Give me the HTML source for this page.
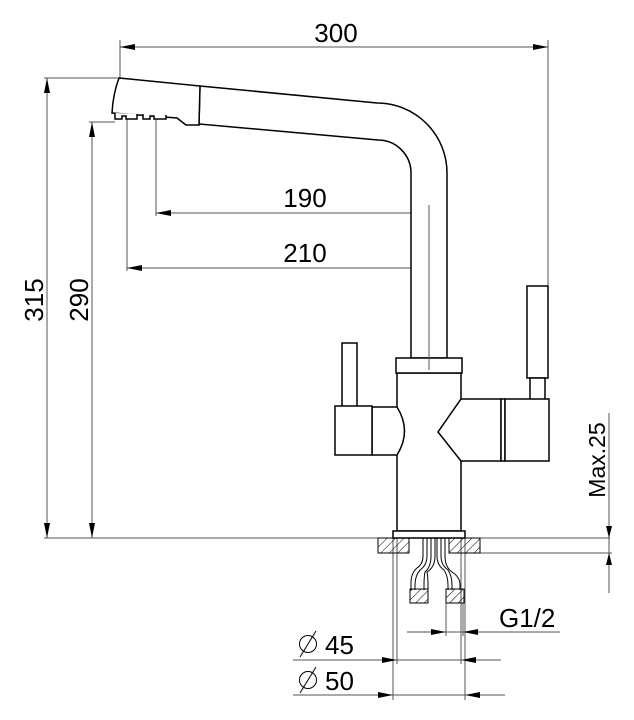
<!DOCTYPE html>
<html><head><meta charset="utf-8"><style>html,body{margin:0;padding:0;background:#fff}svg{display:block}</style></head>
<body>
<svg width="634" height="720" viewBox="0 0 634 720" xmlns="http://www.w3.org/2000/svg">
<defs>
<pattern id="h" width="6" height="6" patternUnits="userSpaceOnUse" patternTransform="rotate(45)"><line x1="0" y1="0" x2="0" y2="6" stroke="#000" stroke-width="1"/></pattern>
</defs>
<g fill="none" stroke="#555" stroke-width="1">
<line x1="120" y1="47" x2="548" y2="47"/>
<line x1="120" y1="40" x2="120" y2="78"/>
<line x1="548" y1="40" x2="548" y2="286"/>
<line x1="47" y1="78" x2="47" y2="538"/>
<line x1="44" y1="78" x2="119" y2="78"/>
<line x1="92" y1="122" x2="92" y2="538"/>
<line x1="89" y1="122" x2="115" y2="122"/>
<line x1="44" y1="538" x2="610" y2="538"/>
<line x1="156" y1="213" x2="428" y2="213"/>
<line x1="156" y1="119" x2="156" y2="216"/>
<line x1="127" y1="268" x2="428" y2="268"/>
<line x1="127" y1="119" x2="127" y2="271"/>
<line x1="609" y1="413" x2="609" y2="593"/>
<line x1="480" y1="553" x2="612" y2="553"/>
<line x1="407" y1="632" x2="560" y2="632"/>
<line x1="446" y1="603" x2="446" y2="636"/>
<line x1="463" y1="603" x2="463" y2="636"/>
<line x1="293" y1="660" x2="501" y2="660"/>
<line x1="293" y1="695" x2="505" y2="695"/>
<line x1="393" y1="538" x2="393" y2="700"/>
<line x1="397" y1="538" x2="397" y2="664"/>
<line x1="461" y1="538" x2="461" y2="664"/>
<line x1="465" y1="538" x2="465" y2="700"/>
</g>
<g fill="#000">
<polygon points="120,47 135,44 135,50"/><polygon points="548,47 533,44 533,50"/>
<polygon points="47,78 44,93 50,93"/><polygon points="47,538 44,523 50,523"/>
<polygon points="92,122 89,137 95,137"/><polygon points="92,538 89,523 95,523"/>
<polygon points="156,213 171,210 171,216"/><polygon points="428,213 413,210 413,216"/>
<polygon points="127,268 142,265 142,271"/><polygon points="428,268 413,265 413,271"/>
<polygon points="609,538 606,526 612,526"/><polygon points="609,553 606,565 612,565"/>
<polygon points="446,632 431,629 431,635"/><polygon points="463,632 478,629 478,635"/>
<polygon points="397,660 382,657 382,663"/><polygon points="461,660 476,657 476,663"/>
<polygon points="393,695 378,692 378,698"/><polygon points="465,695 480,692 480,698"/>
</g>
<g fill="#fff" stroke="#000" stroke-width="1.5">
<path d="M200,86 L377,103 A70,70 0 0 1 447,173 L447,358 L411,358 L411,173 A33,33 0 0 0 378,140 L199,124 Z"/>
<path d="M119,78 L200,86 L199,125 L186,125 L177,118 L112,113 Q113,94 119,78 Z"/>
<path d="M115,113 V119 H122 V116 H126 V119 H137 V114 M143,114 V119 H150 V116 H154 V119 H166 V115"/>
<rect x="342" y="343" width="15" height="64"/>
<rect x="527" y="286" width="21" height="92"/>
<rect x="530" y="378" width="15" height="22"/>
<rect x="397" y="373" width="64" height="158"/>
<rect x="396" y="358" width="66" height="15"/>
<path d="M372,407 L397,407 Q412,431 397,455 L372,455 Z"/>
<rect x="335" y="406" width="37" height="49"/>
<path d="M461,399 L501,399 L501,461 L461,461 L438,432 Z"/>
<path d="M501,399 L505,399 L505,461 L501,461 Z"/>
<rect x="505" y="399" width="44" height="62"/>
<rect x="393" y="531" width="72" height="7"/>
</g>
<line x1="429" y1="205" x2="429" y2="370" stroke="#555"/>
<g stroke="#000" stroke-width="1">
<rect x="378" y="538" width="31" height="15" fill="url(#h)"/>
<rect x="449" y="538" width="31" height="15" fill="url(#h)"/>
<g fill="none">
<path d="M423,538 V556 Q423,564 417,568 Q411,573 411,583 V590"/>
<path d="M427,538 V556 Q427,565 420,570 Q415,576 415,585 V590"/>
<path d="M431,538 V556 Q431,567 425,572 Q424,577 424,585 V590"/>
<path d="M435,538 V556 Q435,567 427,572 Q428,577 428,585 V590"/>
<path d="M437,538 V556 Q437,565 444,570 Q448,576 448,585 V590"/>
<path d="M441,538 V556 Q441,565 448,570 Q452,576 452,585 V590"/>
<path d="M445,538 V556 Q445,567 452,572 Q460,577 460,585 V590"/>
</g>
<rect x="410" y="589" width="18" height="14" fill="url(#h)"/>
<rect x="446" y="589" width="18" height="14" fill="url(#h)"/>
</g>
<g font-family="Liberation Sans, sans-serif" font-size="26" fill="#000">
<text x="336" y="42" text-anchor="middle">300</text>
<text x="305" y="207" text-anchor="middle">190</text>
<text x="305" y="262" text-anchor="middle">210</text>
<text transform="translate(43,300) rotate(-90)" text-anchor="middle">315</text>
<text transform="translate(88,300) rotate(-90)" text-anchor="middle">290</text>
<text transform="translate(605,460) rotate(-90)" text-anchor="middle" font-size="23">Max.25</text>
<text x="499" y="627">G1/2</text>
<text x="325" y="654">45</text>
<text x="325" y="690">50</text>
</g>
<g fill="none" stroke="#000" stroke-width="1">
<circle cx="308" cy="644" r="8.5"/><line x1="300" y1="657" x2="316" y2="631"/>
<circle cx="308" cy="680" r="8.5"/><line x1="300" y1="693" x2="316" y2="667"/>
</g>
</svg>
</body></html>
